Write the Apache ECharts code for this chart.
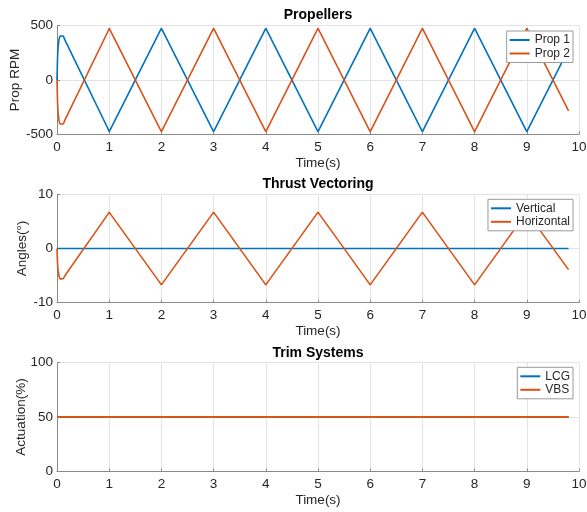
<!DOCTYPE html>
<html>
<head>
<meta charset="utf-8">
<script src="https://cdn.jsdelivr.net/npm/echarts@6/dist/echarts.min.js"></script>
<style>
  html, body { margin: 0; padding: 0; background: #fff; }
  #chart { width: 587px; height: 512px; }
</style>
</head>
<body>
<div id="chart"></div>
<script>
// Propeller speeds (RPM) sampled at the turning points of the sweep
const propTime = [0, 0.01, 0.02, 0.04, 0.06, 0.09, 0.12, 0.16, 0.97, 1, 1.03, 1.97, 2, 2.03, 2.97, 3, 3.03,
  3.97, 4, 4.03, 4.97, 5, 5.03, 5.97, 6, 6.03, 6.97, 7, 7.03, 7.97, 8, 8.03, 8.97, 9, 9.03, 9.8];
const prop1 = [0, 200, 300, 380, 405, 414, 405, 360, -442, -476, -447, 447, 476, 447, -447, -476, -447,
  447, 476, 447, -447, -476, -447, 447, 476, 447, -447, -476, -447, 447, 476, 447, -447, -476, -447, 285];
const prop2 = [0, -200, -300, -380, -405, -414, -405, -360, 442, 476, 447, -447, -476, -447, 447, 476, 447,
  -447, -476, -447, 447, 476, 447, -447, -476, -447, 447, 476, 447, -447, -476, -447, 447, 476, 447, -285];

// Thrust vectoring angles (degrees)
const tvTime = [0, 0.01, 0.02, 0.04, 0.06, 0.09, 0.12, 0.16, 0.97, 1, 1.03, 1.97, 2, 2.03, 2.97, 3, 3.03,
  3.97, 4, 4.03, 4.97, 5, 5.03, 5.97, 6, 6.03, 6.97, 7, 7.03, 7.97, 8, 8.03, 8.97, 9, 9.03, 9.8];
const horizontal = [0, -2.8, -4.0, -5.2, -5.6, -5.7, -5.55, -4.9, 6.25, 6.7, 6.3, -6.3, -6.7, -6.3, 6.3, 6.7, 6.3,
  -6.3, -6.7, -6.3, 6.3, 6.7, 6.3, -6.3, -6.7, -6.3, 6.3, 6.7, 6.3, -6.3, -6.7, -6.3, 6.3, 6.7, 6.3, -3.9];
const vertTime = [0, 9.8];
const vertical = [0, 0];

// Trim systems actuation (%)
const trimTime = [0, 9.8];
const lcg = [50, 50];
const vbs = [50, 50];

const BLUE = '#0072BD';
const ORANGE = '#D95319';
const FONT = 'Liberation Sans, Arial, Helvetica, sans-serif';
const TEXT = '#262626';

function pairs(xs, ys) { return xs.map((x, i) => [x, ys[i]]); }

const gridBase = { left: 57, right: 8, containLabel: false, outerBoundsMode: 'none' };
const grids = [
  Object.assign({ top: 25.7, height: 108.6 }, gridBase),
  Object.assign({ top: 194.3, height: 108.4 }, gridBase),
  Object.assign({ top: 362.5, height: 109 }, gridBase)
];

function xAxis(idx) {
  return {
    type: 'value', gridIndex: idx, min: 0, max: 10, interval: 1,
    name: 'Time(s)', nameLocation: 'middle', nameGap: 22, nameMoveOverlap: false,
    nameTextStyle: { fontFamily: FONT, fontSize: 13.5, color: TEXT },
    axisLine: { show: true, onZero: false, lineStyle: { color: '#8a8a8a', width: 1 } },
    axisTick: { show: true, inside: true, length: 3, lineStyle: { color: '#8a8a8a' } },
    axisLabel: { fontFamily: FONT, fontSize: 13.5, color: TEXT, margin: 6 },
    splitLine: { show: true, lineStyle: { color: '#e3e3e3', width: 1 } }
  };
}

function yAxis(idx, min, max, interval, name, gap) {
  return {
    type: 'value', gridIndex: idx, min: min, max: max, interval: interval,
    name: name, nameLocation: 'middle', nameGap: gap, nameMoveOverlap: false,
    nameTextStyle: { fontFamily: FONT, fontSize: 13.5, color: TEXT },
    axisLine: { show: true, onZero: false, lineStyle: { color: '#8a8a8a', width: 1 } },
    axisTick: { show: true, inside: true, length: 3, lineStyle: { color: '#8a8a8a' } },
    axisLabel: { fontFamily: FONT, fontSize: 13.5, color: TEXT, margin: 4 },
    splitLine: { show: true, lineStyle: { color: '#e3e3e3', width: 1 } }
  };
}

function line(name, idx, xs, ys, color, width) {
  return {
    name: name, type: 'line', xAxisIndex: idx, yAxisIndex: idx,
    data: pairs(xs, ys), showSymbol: false, symbol: 'none',
    lineStyle: { color: color, width: width || 1.6 }, itemStyle: { color: color },
    animation: false, z: 3
  };
}

function legend(names, top) {
  return {
    data: names, orient: 'vertical', right: 14, top: top,
    backgroundColor: '#fff', borderColor: '#9a9a9a', borderWidth: 1,
    padding: [3, 3, 3, 3], itemGap: 1.5, itemWidth: 20, itemHeight: 2, icon: 'rect',
    textStyle: { fontFamily: FONT, fontSize: 12, color: TEXT }
  };
}

function title(text, y) {
  return {
    text: text, left: 318, top: y, textAlign: 'center', padding: 0,
    textStyle: { fontFamily: FONT, fontSize: 14, fontWeight: 'bold', color: '#000' }
  };
}

const chart = echarts.init(document.getElementById('chart'), null, { renderer: 'canvas' });
chart.setOption({
  animation: false,
  backgroundColor: '#fff',
  title: [title('Propellers', 8.5), title('Thrust Vectoring', 177), title('Trim Systems', 346)],
  grid: grids,
  xAxis: [xAxis(0), xAxis(1), xAxis(2)],
  yAxis: [
    yAxis(0, -500, 500, 500, 'Prop RPM', 34.5),
    yAxis(1, -10, 10, 10, 'Angles(°)', 28),
    yAxis(2, 0, 100, 50, 'Actuation(%)', 29)
  ],
  legend: [
    legend(['Prop 1', 'Prop 2'], 31),
    legend(['Vertical', 'Horizontal'], 199.3),
    legend(['LCG', 'VBS'], 367.3)
  ],
  series: [
    line('Prop 1', 0, propTime, prop1, BLUE),
    line('Prop 2', 0, propTime, prop2, ORANGE),
    line('Vertical', 1, vertTime, vertical, BLUE),
    line('Horizontal', 1, tvTime, horizontal, ORANGE),
    line('LCG', 2, trimTime, lcg, BLUE, 2),
    line('VBS', 2, trimTime, vbs, ORANGE, 2)
  ]
});
</script>
</body>
</html>
